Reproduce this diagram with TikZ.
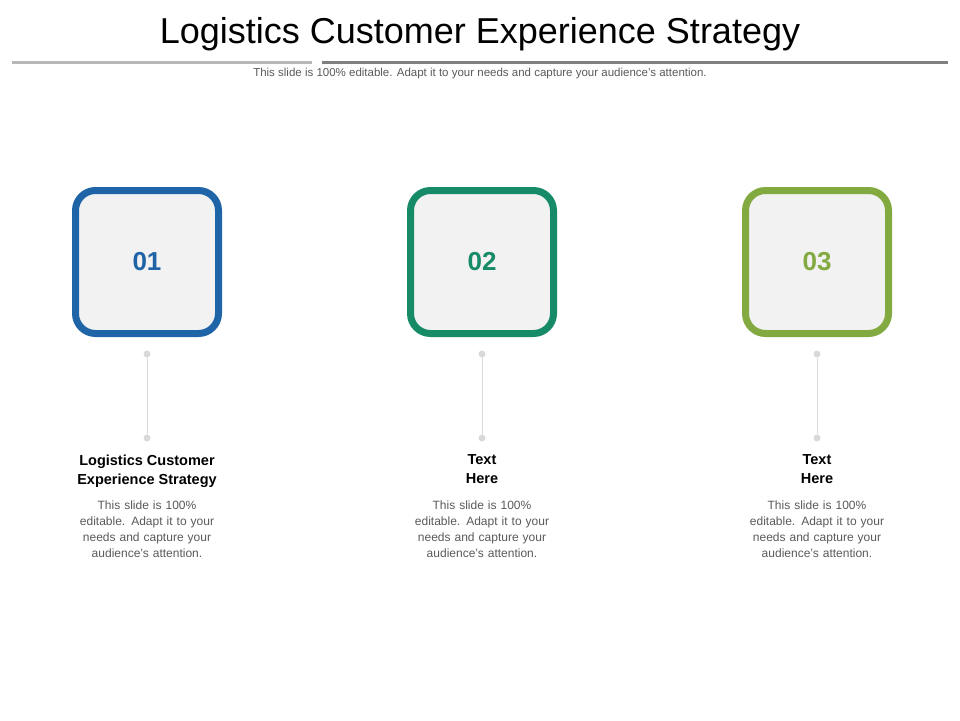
\documentclass[tikz,border=0pt]{standalone}
\usepackage{fontspec}
\setmainfont{Liberation Sans}
\usetikzlibrary{positioning}
\definecolor{stepblue}{HTML}{1F64A6}
\definecolor{stepgreen}{HTML}{178A68}
\definecolor{steplime}{HTML}{82AA40}
\definecolor{boxfill}{HTML}{F2F2F2}
\definecolor{bodygray}{HTML}{595959}
\definecolor{stemgray}{HTML}{D9D9D9}
\tikzset{every picture/.style={x=1pt,y=-1pt}}
\begin{document}
\begin{tikzpicture}[
    numbox/.style={
      rectangle,
      rounded corners=20pt,
      draw,
      line width=7pt,
      fill=boxfill,
      minimum size=143pt,
      font=\bfseries\fontsize{26}{30}\selectfont
    },
    stemdot/.style={
      circle,
      fill=stemgray,
      inner sep=0pt,
      minimum size=7pt
    },
    headtext/.style={
      font=\bfseries\fontsize{14.5}{19}\selectfont,
      align=center
    },
    bodytext/.style={
      font=\fontsize{12}{16}\selectfont,
      text=bodygray,
      align=center,
      text width=150pt
    }]
    \useasboundingbox (0,0) rectangle (960,720);

    % Title and rules.
    \node (title) at (480,34) {\fontsize{36}{40}\selectfont Logistics Customer Experience Strategy};
    \draw[line width=3pt,color=black!28] (12,62) -- (312,62);
    \draw[line width=3pt,color=black!50] (322,62) -- (948,62);
    \node[font=\fontsize{11.5}{14}\selectfont,text=bodygray] (sub) at (480,74)
      {This slide is 100\% editable. Adapt it to your needs and capture your audience's attention.};

    % Three steps.
    \foreach \n/\cx/\col/\head in {01/147/stepblue/{Logistics Customer\\Experience Strategy},
                                 02/482/stepgreen/{Text\\Here},
                                 03/817/steplime/{Text\\Here}} {
      \node[numbox,draw=\col,text=\col] (box\n) at (\cx,262) {\n};
      \node[stemdot] (top\n) at (\cx,354) {};
      \node[stemdot] (bot\n) at (\cx,438) {};
      \draw[stemgray,line width=1pt] (top\n) -- (bot\n);
      \node[headtext,anchor=north] (head\n) at (\cx,451) {\head};
      \node[bodytext,anchor=north] (body\n) at (\cx,497)
        {This slide is 100\%\\editable. Adapt it to your\\needs and capture your\\audience's attention.};
    }
  \end{tikzpicture}
\end{document}
